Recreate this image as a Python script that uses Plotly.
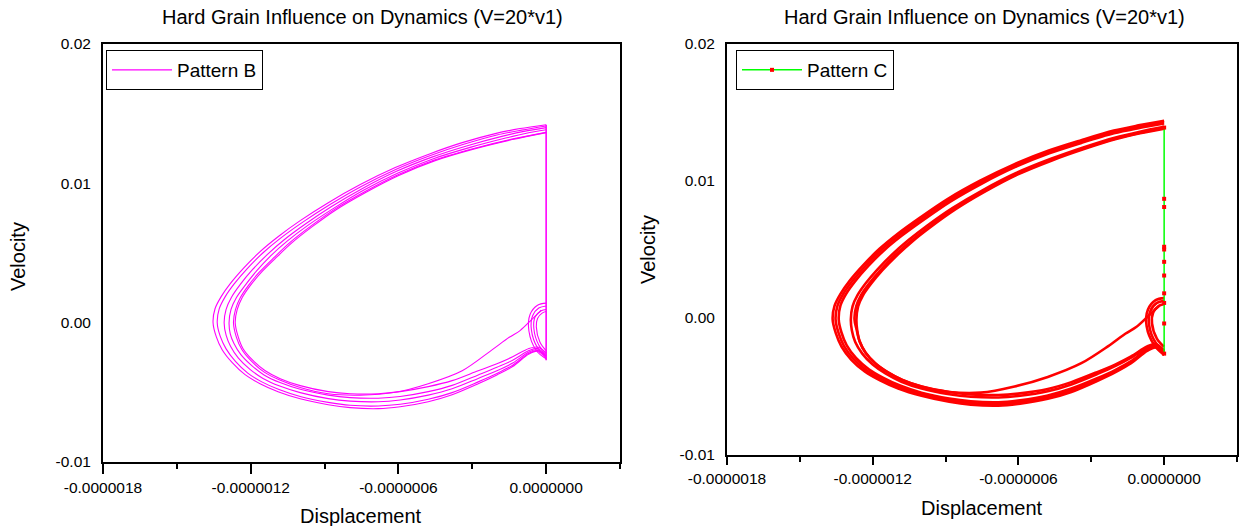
import plotly.graph_objects as go

FONT = "Liberation Sans, Arial, sans-serif"
X_UNIT = 1e-6   # displacement values below are given in units of 1e-6
V_UNIT = 1e-3   # velocity values below are given in units of 1e-3

# ---------------- axis ticks ----------------
x_tick_vals = [-1.8e-6, -1.2e-6, -0.6e-6, 0.0]
x_tick_text = ["-0.0000018", "-0.0000012", "-0.0000006", "0.0000000"]
x_minor_vals = [-1.5e-6, -0.9e-6, -0.3e-6, 0.3e-6]
y_tick_vals = [-0.01, 0.0, 0.01, 0.02]
y_tick_text = ["-0.01", "0.00", "0.01", "0.02"]

# ---------------- Pattern B ----------------
# each loop: lower branch (from the wall, moving left) then upper branch (back to the wall)
pattern_b_lower_disp = [
    [0, -0.035, -0.07, -0.136, -0.2, -0.276, -0.382, -0.479, -0.593, -0.682, -0.796, -0.885, -0.999, -1.089, -1.162, -1.223, -1.275, -1.316, -1.340],
    [0, -0.035, -0.07, -0.136, -0.2, -0.276, -0.382, -0.479, -0.593, -0.682, -0.796, -0.885, -0.999, -1.085, -1.155, -1.212, -1.262, -1.300, -1.324],
    [0, -0.035, -0.07, -0.136, -0.2, -0.276, -0.382, -0.479, -0.593, -0.682, -0.796, -0.885, -0.999, -1.082, -1.150, -1.203, -1.250, -1.282, -1.300],
    [0, -0.035, -0.07, -0.136, -0.2, -0.276, -0.382, -0.479, -0.593, -0.682, -0.796, -0.885, -0.999, -1.081, -1.146, -1.198, -1.240, -1.268, -1.283],
    [0, -0.035, -0.07, -0.136, -0.2, -0.276, -0.382, -0.479, -0.593, -0.682, -0.796, -0.885, -0.999, -1.080, -1.141, -1.194, -1.231, -1.251],
    [-0.02, -0.06, -0.106, -0.15, -0.22, -0.341, -0.479, -0.613, -0.755, -0.885, -0.999, -1.082, -1.145, -1.198, -1.236, -1.258],
]
pattern_b_lower_vel = [
    [-2.58, -2.05, -2.25, -3.15, -3.75, -4.38, -5.17, -5.67, -6.03, -6.17, -6.10, -5.89, -5.46, -4.95, -4.38, -3.73, -2.87, -1.94, -1.00],
    [-2.5, -2.0, -2.2, -3.05, -3.65, -4.25, -5.02, -5.5, -5.86, -5.98, -5.93, -5.72, -5.30, -4.80, -4.25, -3.62, -2.78, -1.88, -0.97],
    [-2.4, -1.95, -2.1, -2.9, -3.45, -4.0, -4.75, -5.2, -5.55, -5.68, -5.63, -5.45, -5.02, -4.55, -4.0, -3.35, -2.55, -1.7, -0.9],
    [-2.3, -1.85, -2.0, -2.7, -3.2, -3.75, -4.5, -4.95, -5.3, -5.42, -5.38, -5.2, -4.78, -4.3, -3.75, -3.05, -2.3, -1.5, -0.8],
    [-2.15, -1.75, -1.85, -2.45, -2.95, -3.45, -4.16, -4.59, -4.95, -5.10, -5.10, -4.95, -4.52, -4.02, -3.45, -2.66, -1.87, -1.00],
    [0.9, 0.2, -0.57, -1.05, -1.95, -3.45, -4.38, -5.0, -5.2, -5.1, -4.65, -4.12, -3.55, -2.75, -1.93, -1.05],
]
pattern_b_upper_disp = [
    [-1.353, -1.345, -1.320, -1.283, -1.227, -1.162, -1.089, -0.999, -0.885, -0.755, -0.613, -0.471, -0.341, -0.207, -0.106, 0],
    [-1.336, -1.328, -1.304, -1.268, -1.214, -1.151, -1.080, -0.990, -0.878, -0.751, -0.611, -0.470, -0.335, -0.200, -0.100, 0],
    [-1.308, -1.300, -1.278, -1.243, -1.193, -1.132, -1.064, -0.978, -0.870, -0.746, -0.608, -0.464, -0.320, -0.180, -0.090, 0],
    [-1.288, -1.280, -1.258, -1.222, -1.177, -1.120, -1.052, -0.968, -0.862, -0.742, -0.604, -0.458, -0.305, -0.160, -0.080, 0],
    [-1.263, -1.255, -1.235, -1.202, -1.158, -1.101, -1.032, -0.950, -0.853, -0.735, -0.601, -0.451, -0.288, -0.138, 0],
    [-1.270, -1.262, -1.242, -1.209, -1.165, -1.108, -1.039, -0.956, -0.858, -0.739, -0.604, -0.454, -0.290, -0.139, 0],
]
pattern_b_upper_vel = [
    [0.0, 1.00, 1.87, 2.80, 3.95, 5.10, 6.17, 7.32, 8.61, 9.91, 11.13, 12.13, 12.92, 13.57, 13.93, 14.21],
    [0.0, 0.99, 1.85, 2.76, 3.88, 5.0, 6.05, 7.2, 8.48, 9.78, 11.0, 12.0, 12.8, 13.47, 13.82, 14.12],
    [0.0, 0.96, 1.83, 2.73, 3.8, 4.9, 5.95, 7.08, 8.35, 9.63, 10.86, 11.88, 12.7, 13.37, 13.73, 14.0],
    [0.0, 0.95, 1.81, 2.7, 3.7, 4.78, 5.85, 6.98, 8.22, 9.5, 10.72, 11.77, 12.6, 13.27, 13.6, 13.85],
    [0.0, 0.93, 1.79, 2.66, 3.59, 4.59, 5.74, 6.89, 8.11, 9.33, 10.55, 11.63, 12.49, 13.14, 13.64],
    [0.0, 0.94, 1.8, 2.68, 3.62, 4.63, 5.78, 6.93, 8.15, 9.38, 10.6, 11.67, 12.52, 13.17, 13.66],
]
pattern_b_small_disp = [
    [0, -0.04, -0.07, -0.065, -0.035, 0],
    [0, -0.035, -0.06, -0.055, -0.03, 0],
    [0, -0.03, -0.05, -0.045, -0.02, 0],
    [0, -0.025, -0.04, -0.035, -0.015, 0],
]
pattern_b_small_vel = [
    [-2.6, -2.0, -0.6, 0.6, 1.25, 1.4],
    [-2.4, -1.8, -0.5, 0.5, 1.05, 1.2],
    [-2.2, -1.6, -0.4, 0.4, 0.85, 0.95],
    [-2.0, -1.4, -0.3, 0.3, 0.7, 0.8],
]
pattern_b_wall_disp = [0, 0]
pattern_b_wall_vel = [14.2, -2.7]

# ---------------- Pattern C ----------------
pattern_c_lower_disp = [
    [0, -0.035, -0.07, -0.136, -0.2, -0.276, -0.382, -0.479, -0.593, -0.682, -0.796, -0.885, -0.999, -1.095, -1.170, -1.233, -1.288, -1.328, -1.352],
    [0, -0.035, -0.07, -0.136, -0.2, -0.276, -0.382, -0.479, -0.593, -0.682, -0.796, -0.885, -0.999, -1.090, -1.163, -1.225, -1.279, -1.318, -1.341],
    [0, -0.035, -0.07, -0.136, -0.2, -0.276, -0.382, -0.479, -0.593, -0.682, -0.796, -0.885, -0.999, -1.085, -1.156, -1.216, -1.269, -1.307, -1.329],
    [0, -0.035, -0.07, -0.136, -0.2, -0.276, -0.382, -0.479, -0.593, -0.682, -0.796, -0.885, -0.999, -1.082, -1.146, -1.200, -1.243, -1.272, -1.286],
    [0, -0.035, -0.07, -0.136, -0.2, -0.276, -0.382, -0.479, -0.593, -0.682, -0.796, -0.885, -0.999, -1.078, -1.139, -1.190, -1.230, -1.254, -1.264],
    [-0.02, -0.065, -0.115, -0.16, -0.23, -0.341, -0.479, -0.616, -0.755, -0.885, -0.999, -1.078, -1.139, -1.190, -1.230, -1.254, -1.266],
]
pattern_c_lower_vel = [
    [-2.7, -2.15, -2.4, -3.3, -3.95, -4.6, -5.4, -5.9, -6.25, -6.4, -6.33, -6.12, -5.68, -5.15, -4.55, -3.9, -3.05, -2.1, -1.1],
    [-2.62, -2.1, -2.33, -3.22, -3.87, -4.5, -5.28, -5.78, -6.13, -6.28, -6.21, -6.0, -5.57, -5.05, -4.46, -3.82, -2.98, -2.05, -1.07],
    [-2.55, -2.05, -2.27, -3.15, -3.78, -4.4, -5.15, -5.65, -6.0, -6.15, -6.08, -5.88, -5.45, -4.95, -4.37, -3.74, -2.92, -2.0, -1.04],
    [-2.45, -1.95, -2.15, -2.9, -3.5, -4.1, -4.85, -5.35, -5.68, -5.8, -5.75, -5.57, -5.15, -4.65, -4.07, -3.4, -2.6, -1.75, -0.9],
    [-2.38, -1.9, -2.08, -2.8, -3.38, -3.95, -4.68, -5.18, -5.5, -5.62, -5.58, -5.4, -5.0, -4.52, -3.95, -3.3, -2.52, -1.7, -0.87],
    [0.9, 0.15, -0.66, -1.15, -2.05, -3.3, -4.3, -5.0, -5.45, -5.4, -5.0, -4.52, -3.95, -3.3, -2.52, -1.7, -0.87],
]
pattern_c_upper_disp = [
    [-1.365, -1.357, -1.332, -1.295, -1.238, -1.172, -1.097, -1.005, -0.892, -0.760, -0.616, -0.475, -0.341, -0.207, -0.106, 0],
    [-1.353, -1.345, -1.321, -1.284, -1.228, -1.163, -1.089, -0.998, -0.887, -0.756, -0.614, -0.474, -0.341, -0.207, -0.106, 0],
    [-1.340, -1.333, -1.310, -1.273, -1.218, -1.154, -1.081, -0.991, -0.882, -0.752, -0.612, -0.473, -0.341, -0.207, -0.106, 0],
    [-1.290, -1.283, -1.262, -1.228, -1.180, -1.122, -1.055, -0.975, -0.872, -0.748, -0.607, -0.466, -0.333, -0.200, -0.100, 0],
    [-1.267, -1.260, -1.240, -1.206, -1.160, -1.103, -1.038, -0.960, -0.860, -0.740, -0.602, -0.462, -0.330, -0.198, -0.099, 0],
    [-1.275, -1.268, -1.248, -1.214, -1.167, -1.110, -1.044, -0.965, -0.864, -0.743, -0.604, -0.464, -0.331, -0.199, -0.099, 0],
]
pattern_c_upper_vel = [
    [-0.1, 0.9, 1.78, 2.72, 3.88, 5.05, 6.15, 7.33, 8.68, 10.0, 11.23, 12.22, 12.98, 13.68, 14.06, 14.4],
    [-0.1, 0.9, 1.77, 2.7, 3.85, 5.0, 6.08, 7.25, 8.58, 9.9, 11.13, 12.12, 12.88, 13.58, 13.96, 14.3],
    [-0.1, 0.9, 1.75, 2.67, 3.8, 4.93, 6.0, 7.16, 8.48, 9.8, 11.03, 12.02, 12.78, 13.48, 13.86, 14.2],
    [-0.1, 0.85, 1.68, 2.55, 3.55, 4.6, 5.65, 6.75, 8.02, 9.32, 10.6, 11.62, 12.45, 13.18, 13.6, 13.95],
    [-0.1, 0.85, 1.66, 2.52, 3.5, 4.53, 5.57, 6.66, 7.92, 9.2, 10.48, 11.5, 12.33, 13.06, 13.48, 13.82],
    [-0.1, 0.85, 1.67, 2.53, 3.52, 4.56, 5.6, 6.7, 7.96, 9.25, 10.53, 11.55, 12.38, 13.1, 13.52, 13.87],
]
pattern_c_small_disp = [
    [0, -0.04, -0.072, -0.067, -0.035, 0],
    [0, -0.035, -0.062, -0.057, -0.03, 0],
    [0, -0.03, -0.05, -0.045, -0.02, 0],
]
pattern_c_small_vel = [
    [-2.7, -2.0, -0.6, 0.6, 1.3, 1.45],
    [-2.4, -1.8, -0.5, 0.5, 1.1, 1.25],
    [-2.1, -1.5, -0.4, 0.4, 0.9, 1.0],
]
pattern_c_wall_disp = [0, 0, 0, 0, 0, 0, 0, 0, 0, 0, 0]
pattern_c_wall_vel = [13.9, 8.7, 8.1, 5.2, 5.0, 4.1, 3.1, 1.8, 1.1, -0.4, -2.6]


def join(loops, unit):
    out = []
    for k, loop in enumerate(loops):
        if k:
            out.append(None)
        out.extend(v * unit for v in loop)
    return out


def loops(lower, upper):
    return [lo + up for lo, up in zip(lower, upper)]


fig = go.Figure()

MAG = "#ff00ff"
RED = "#ff0000"
GREEN = "#00ff00"

# Pattern B
fig.add_trace(go.Scatter(
    x=join(loops(pattern_b_lower_disp, pattern_b_upper_disp), X_UNIT),
    y=join(loops(pattern_b_lower_vel, pattern_b_upper_vel), V_UNIT),
    mode="lines", line=dict(color=MAG, width=1.1, shape="spline", smoothing=0.9),
    name="Pattern B", xaxis="x", yaxis="y", legend="legend", showlegend=True))
fig.add_trace(go.Scatter(
    x=join(pattern_b_small_disp, X_UNIT), y=join(pattern_b_small_vel, V_UNIT),
    mode="lines", line=dict(color=MAG, width=1.1, shape="spline", smoothing=1.0),
    xaxis="x", yaxis="y", showlegend=False, hoverinfo="skip"))
fig.add_trace(go.Scatter(
    x=[v * X_UNIT for v in pattern_b_wall_disp], y=[v * V_UNIT for v in pattern_b_wall_vel],
    mode="lines", line=dict(color=MAG, width=1.6),
    xaxis="x", yaxis="y", showlegend=False, hoverinfo="skip"))

# Pattern C
fig.add_trace(go.Scatter(
    x=join(loops(pattern_c_lower_disp, pattern_c_upper_disp), X_UNIT),
    y=join(loops(pattern_c_lower_vel, pattern_c_upper_vel), V_UNIT),
    mode="lines", line=dict(color=RED, width=2.6, shape="spline", smoothing=0.9),
    xaxis="x2", yaxis="y2", showlegend=False, hoverinfo="skip"))
fig.add_trace(go.Scatter(
    x=join(pattern_c_small_disp, X_UNIT), y=join(pattern_c_small_vel, V_UNIT),
    mode="lines", line=dict(color=RED, width=2.6, shape="spline", smoothing=1.0),
    xaxis="x2", yaxis="y2", showlegend=False, hoverinfo="skip"))
fig.add_trace(go.Scatter(
    x=[v * X_UNIT for v in pattern_c_wall_disp], y=[v * V_UNIT for v in pattern_c_wall_vel],
    mode="lines+markers", line=dict(color=GREEN, width=1.5),
    marker=dict(color=RED, size=4, symbol="square"),
    name="Pattern C", xaxis="x2", yaxis="y2", legend="legend2", showlegend=True))


def xaxis_cfg(domain, anchor, ticklen):
    return dict(domain=domain, anchor=anchor, range=[-1.8e-6, 0.3e-6], automargin=False,
                tickmode="array", tickvals=x_tick_vals, ticktext=x_tick_text,
                ticks="outside", ticklen=ticklen, tickwidth=2, tickcolor="black",
                minor=dict(tickmode="array", tickvals=x_minor_vals, ticks="outside",
                           ticklen=5, tickwidth=2, tickcolor="black"),
                showline=True, linecolor="black", linewidth=2, mirror=True,
                showgrid=False, zeroline=False,
                tickfont=dict(family=FONT, size=15.5, color="black"))


def yaxis_cfg(domain, anchor):
    return dict(domain=domain, anchor=anchor, range=[-0.01, 0.02], automargin=False,
                tickmode="array", tickvals=y_tick_vals, ticktext=y_tick_text,
                ticks="outside", ticklen=7, tickcolor="rgba(0,0,0,0)",
                showline=True, linecolor="black", linewidth=2, mirror=True,
                showgrid=False, zeroline=False,
                tickfont=dict(family=FONT, size=15.5, color="black"))


W, H = 1239, 526
TITLE = "Hard Grain Influence on Dynamics (V=20*v1)"


def label(text, px, py, angle=0):
    return dict(text=text, x=px / W, y=1 - py / H, textangle=angle,
                xref="paper", yref="paper", showarrow=False,
                xanchor="center", yanchor="middle",
                font=dict(family=FONT, size=20, color="black"))


fig.update_layout(
    width=W, height=H, autosize=False,
    margin=dict(l=0, r=0, t=0, b=0),
    paper_bgcolor="white", plot_bgcolor="white",
    font=dict(family=FONT, color="black"),
    xaxis=xaxis_cfg([103 / W, 620 / W], "y", 10),
    yaxis=yaxis_cfg([64 / H, 482 / H], "x"),
    xaxis2=xaxis_cfg([727 / W, 1237 / W], "y2", 8),
    yaxis2=yaxis_cfg([71 / H, 482 / H], "x2"),
    legend=dict(x=106 / W, y=1 - 50 / H, xanchor="left", yanchor="top",
                bgcolor="white", bordercolor="black", borderwidth=1,
                itemwidth=60, tracegroupgap=0,
                font=dict(family=FONT, size=19, color="black")),
    legend2=dict(x=736 / W, y=1 - 50 / H, xanchor="left", yanchor="top",
                 bgcolor="white", bordercolor="black", borderwidth=1,
                 itemwidth=60, tracegroupgap=0,
                 font=dict(family=FONT, size=19, color="black")),
    annotations=[
        label(TITLE, 362, 17),
        label(TITLE, 984, 17),
        label("Displacement", 361, 516),
        label("Displacement", 982, 508),
        label("Velocity", 18, 257, -90),
        label("Velocity", 648, 250, -90),
    ],
)

fig.write_html("out.html")
